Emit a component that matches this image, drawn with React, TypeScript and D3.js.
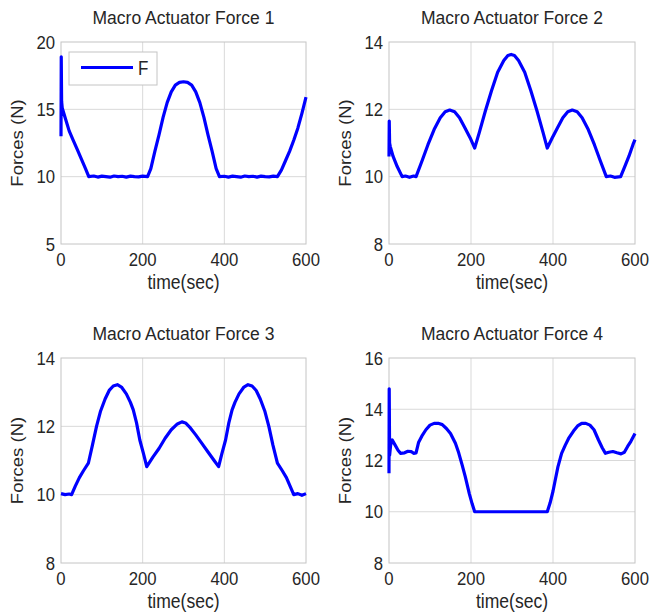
import React from "react";
import * as d3 from "d3";

// ---------- data ----------
const xTicks = [0, 200, 400, 600];

const f1Time = [0, 0.6, 1.5, 3, 10, 20, 30, 40, 50, 60, 68, 80, 90, 100, 110, 120, 130, 140, 150, 160, 170, 180, 190, 200, 212, 220, 230, 240, 250, 260, 270, 280, 290, 300, 310, 320, 330, 340, 350, 360, 370, 380, 388, 400, 410, 420, 430, 440, 450, 460, 470, 480, 490, 500, 510, 520, 530, 540, 550, 560, 570, 580, 590, 600];
const f1Force = [13.0, 18.9, 15.6, 15.1, 14.4, 13.4, 12.7, 12.0, 11.3, 10.6, 10.0, 10.05, 9.97, 10.04, 10.0, 9.96, 10.05, 10.0, 10.03, 9.97, 10.04, 10.0, 9.98, 10.04, 10.0, 10.6, 11.9, 13.1, 14.4, 15.5, 16.3, 16.8, 17.0, 17.05, 17.0, 16.8, 16.3, 15.5, 14.4, 13.1, 11.9, 10.6, 10.0, 10.03, 9.97, 10.04, 10.0, 9.96, 10.05, 10.0, 10.03, 9.97, 10.04, 10.0, 9.98, 10.04, 10.0, 10.5, 11.2, 11.9, 12.7, 13.6, 14.7, 15.9];

const f2Time = [0, 0.6, 1.5, 3, 10, 20, 32, 40, 50, 60, 66, 80, 95, 110, 125, 137, 148, 160, 172, 185, 198, 209, 220, 235, 250, 265, 280, 290, 298, 306, 316, 331, 346, 361, 376, 386, 398, 411, 424, 436, 447, 459, 471, 486, 501, 516, 530, 540, 550, 565, 575, 585, 595, 600];
const f2Force = [10.6, 11.65, 11.0, 10.9, 10.6, 10.3, 10.0, 10.02, 9.98, 10.02, 10.0, 10.45, 10.95, 11.4, 11.75, 11.93, 11.98, 11.93, 11.75, 11.45, 11.15, 10.85, 11.3, 11.95, 12.55, 13.1, 13.45, 13.6, 13.63, 13.6, 13.45, 13.1, 12.55, 11.95, 11.3, 10.85, 11.15, 11.45, 11.75, 11.93, 11.98, 11.93, 11.75, 11.4, 10.95, 10.45, 10.0, 10.02, 9.98, 10.0, 10.3, 10.6, 10.95, 11.1];

const f3Time = [0, 10, 20, 26, 35, 45, 55, 67, 77, 87, 97, 108, 118, 128, 138, 148, 160, 170, 177, 185, 193, 202, 210, 225, 240, 255, 270, 285, 296, 305, 315, 330, 345, 360, 375, 386, 394, 403, 411, 419, 426, 436, 448, 458, 468, 478, 488, 499, 509, 519, 530, 542, 552, 561, 570, 580, 590, 600];
const f3Force = [10.03, 10.0, 10.02, 10.0, 10.25, 10.5, 10.7, 10.92, 11.45, 12.0, 12.45, 12.8, 13.05, 13.18, 13.22, 13.15, 12.95, 12.7, 12.48, 12.1, 11.6, 11.2, 10.82, 11.1, 11.35, 11.65, 11.9, 12.07, 12.13, 12.1, 11.98, 11.75, 11.5, 11.25, 11.0, 10.82, 11.2, 11.6, 12.1, 12.48, 12.7, 12.95, 13.15, 13.22, 13.18, 13.05, 12.8, 12.45, 12.0, 11.45, 10.92, 10.7, 10.5, 10.25, 10.0, 10.03, 9.98, 10.03];

const f4Time = [0, 0.5, 1.5, 4, 8, 15, 22, 28, 38, 46, 54, 60, 66, 72, 80, 90, 100, 110, 120, 130, 140, 150, 162, 170, 178, 186, 196, 203, 209, 300, 386, 393, 400, 405, 412, 421, 430, 438, 450, 460, 470, 480, 490, 500, 511, 520, 528, 536, 546, 556, 566, 574, 582, 590, 600];
const f4Force = [11.5, 14.8, 12.2, 12.6, 12.8, 12.6, 12.4, 12.28, 12.3, 12.36, 12.35, 12.28, 12.3, 12.7, 12.95, 13.2, 13.38, 13.45, 13.45, 13.4, 13.25, 13.05, 12.67, 12.3, 11.85, 11.37, 10.7, 10.3, 10.0, 10.0, 10.0, 10.35, 10.8, 11.2, 11.75, 12.28, 12.6, 12.86, 13.15, 13.35, 13.45, 13.45, 13.38, 13.2, 12.8, 12.5, 12.28, 12.32, 12.35, 12.3, 12.26, 12.32, 12.55, 12.75, 13.05];

const titles = ["Macro Actuator Force 1", "Macro Actuator Force 2", "Macro Actuator Force 3", "Macro Actuator Force 4"];
const yDomains = [[5, 20], [8, 14], [8, 14], [8, 16]];
const yTicks = [[5, 10, 15, 20], [8, 10, 12, 14], [8, 10, 12, 14], [8, 10, 12, 14, 16]];
const legendLabel = "F";

// ---------- layout ----------
const boxes = [
  { left: 61, right: 306, top: 42, bottom: 244 },
  { left: 389, right: 635, top: 42, bottom: 244 },
  { left: 61, right: 306, top: 358, bottom: 563 },
  { left: 389, right: 635, top: 358, bottom: 563 },
];
const series = [
  [f1Time, f1Force],
  [f2Time, f2Force],
  [f3Time, f3Force],
  [f4Time, f4Force],
];

const FONT = "'Liberation Sans', Arial, Helvetica, sans-serif";
const TXT = "#262626";
const BLUE = "#0000ff";

function Panel({ i }: { i: number }) {
  const b = boxes[i];
  const x = d3.scaleLinear().domain([0, 600]).range([b.left, b.right]);
  const y = d3.scaleLinear().domain(yDomains[i]).range([b.bottom, b.top]);
  const [ts, vs] = series[i];
  const pts = ts.map((t, k) => [t, vs[k]] as [number, number]);
  const line = d3
    .line<[number, number]>()
    .x((d) => x(d[0]))
    .y((d) => y(d[1]));
  const cx = (b.left + b.right) / 2;
  const cy = (b.top + b.bottom) / 2;
  return (
    <g>
      <rect x={b.left} y={b.top} width={b.right - b.left} height={b.bottom - b.top} fill="#fff" />
      {xTicks.slice(1, -1).map((t) => (
        <line key={"gx" + t} x1={x(t)} x2={x(t)} y1={b.top} y2={b.bottom} stroke="#d9d9d9" strokeWidth={1} />
      ))}
      {yTicks[i].slice(1, -1).map((t) => (
        <line key={"gy" + t} x1={b.left} x2={b.right} y1={y(t)} y2={y(t)} stroke="#d9d9d9" strokeWidth={1} />
      ))}
      <rect x={b.left} y={b.top} width={b.right - b.left} height={b.bottom - b.top} fill="none" stroke="#c4c4c4" strokeWidth={1} />
      <path d={line(pts) || ""} fill="none" stroke={BLUE} strokeWidth={3.2} strokeLinejoin="round" />
      {xTicks.map((t) => (
        <text key={"xt" + t} transform={`translate(${x(t)},${b.bottom + 22}) scale(0.88,1)`} textAnchor="middle" fontSize={19} fill={TXT} fontFamily={FONT}>
          {t}
        </text>
      ))}
      {yTicks[i].map((t) => (
        <text key={"yt" + t} transform={`translate(${b.left - 6},${y(t) + 6.5}) scale(0.88,1)`} textAnchor="end" fontSize={19} fill={TXT} fontFamily={FONT}>
          {t}
        </text>
      ))}
      <text transform={`translate(${cx},${b.bottom + 45}) scale(0.9,1)`} textAnchor="middle" fontSize={19.5} fill={TXT} fontFamily={FONT}>
        time(sec)
      </text>
      <text transform={`translate(${b.left - 38},${cy}) rotate(-90) scale(1,0.88)`} textAnchor="middle" fontSize={18.5} fill={TXT} fontFamily={FONT}>
        Forces (N)
      </text>
      <text x={cx} y={b.top - 18} textAnchor="middle" fontSize={17.5} fill={TXT} fontFamily={FONT}>
        {titles[i]}
      </text>
      {i === 0 && (
        <g>
          <rect x={69} y={52} width={88} height={33} fill="#fff" stroke="#c4c4c4" strokeWidth={1} />
          <line x1={81} x2={133} y1={67.5} y2={67.5} stroke={BLUE} strokeWidth={3.2} />
          <text transform={`translate(138,75) scale(0.85,1)`} fontSize={20} fill={TXT} fontFamily={FONT}>
            {legendLabel}
          </text>
        </g>
      )}
    </g>
  );
}

export default function App() {
  return (
    <svg width={652} height={614} style={{ position: "absolute", left: 0, top: 0, background: "#fff" }}>
      <rect x={0} y={0} width={652} height={614} fill="#fff" />
      {[0, 1, 2, 3].map((i) => (
        <Panel key={i} i={i} />
      ))}
    </svg>
  );
}
